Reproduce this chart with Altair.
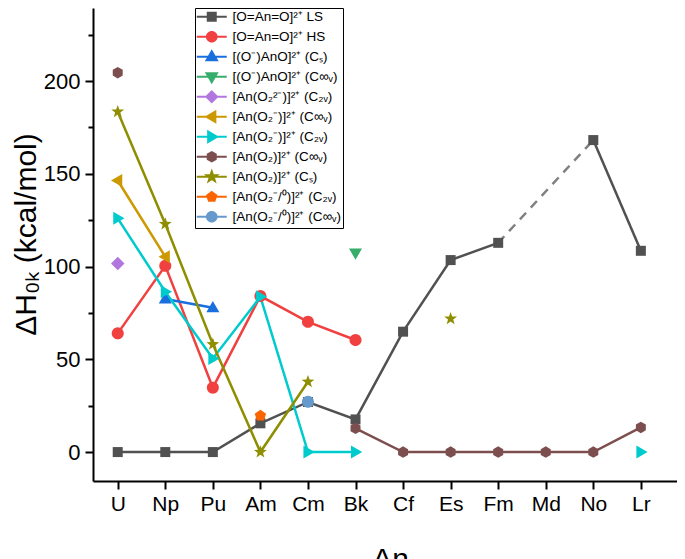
import json
import math
import altair as alt
import pandas as pd

# ---------------- data ----------------
elements = ["U", "Np", "Pu", "Am", "Cm", "Bk", "Cf", "Es", "Fm", "Md", "No", "Lr"]

series_names = [
    "[O=An=O]²⁺ LS",
    "[O=An=O]²⁺ HS",
    "[(O⁻)AnO]²⁺ (Cₛ)",
    "[(O⁻)AnO]²⁺ (C∞ᵥ)",
    "[An(O₂²⁻)]²⁺ (C₂ᵥ)",
    "[An(O₂⁻)]²⁺ (C∞ᵥ)",
    "[An(O₂⁻)]²⁺ (C₂ᵥ)",
    "[An(O₂)]²⁺ (C∞ᵥ)",
    "[An(O₂)]²⁺ (Cₛ)",
    "[An(O₂⁻/⁰)]²⁺ (C₂ᵥ)",
    "[An(O₂⁻/⁰)]²⁺ (C∞ᵥ)",
]

N = None
ls_vals      = [0, 0, 0, 15.5, 27.0, 17.6, 64.9, 103.5, 112.8, N, 168.2, 108.5]
hs_vals      = [64.0, 100.4, 34.7, 84.1, 70.2, 60.4, N, N, N, N, N, N]
cs_vals      = [N, 82.5, 77.8, N, N, N, N, N, N, N, N, N]
cinf_vals    = [N, N, N, N, N, 107.3, N, N, N, N, N, N]
perox_vals   = [101.7, N, N, N, N, N, N, N, N, N, N, N]
superinf_vals = [146.4, 105.3, N, N, N, N, N, N, N, N, N, N]
super2v_vals = [126.0, 86.4, 50.5, 83.7, 0, 0, N, N, N, N, N, 0]
o2inf_vals   = [204.5, N, N, N, N, 12.8, 0, 0, 0, 0, 0, 13.3]
o2s_vals     = [183.5, 122.9, 58.1, 0, 37.9, N, N, 71.9, N, N, N, N]
mix2v_vals   = [N, N, N, 19.6, N, N, N, N, N, N, N, N]
mixinf_vals  = [N, N, N, N, 27.1, N, N, N, N, N, N, N]

all_vals = [ls_vals, hs_vals, cs_vals, cinf_vals, perox_vals, superinf_vals,
            super2v_vals, o2inf_vals, o2s_vals, mix2v_vals, mixinf_vals]

# dashed connector of the LS curve (Fm -> No)
dash_elements = ["Fm", "No"]
dash_vals = [112.8, 168.2]

colors = ["#515151", "#F14040", "#1A6FDF", "#37AD6B", "#B177DE", "#CC9900",
          "#00CBCC", "#7D4E4E", "#8E8E00", "#FB6501", "#6699CC"]

y_major = [0, 50, 100, 150, 200]
y_minor = [25, 75, 125, 175, 225]

# ---------------- marker geometry ----------------
def poly(pts, s=1.0):
    return "M" + "L".join(f"{x*s:.3f},{y*s:.3f}" for x, y in pts) + "Z"

def reg(n, r, start=-90):
    return [(r*math.cos(math.radians(start + 360*k/n)), r*math.sin(math.radians(start + 360*k/n))) for k in range(n)]

def star(r, ri):
    pts = []
    for k in range(10):
        rr = r if k % 2 == 0 else ri
        a = math.radians(-90 + 36*k)
        pts.append((rr*math.cos(a), rr*math.sin(a)))
    return pts

def marker_paths(s):
    return [
        poly([(-1, -1), (1, -1), (1, 1), (-1, 1)], s),          # square
        poly(reg(32, 1.2), s),                                  # circle
        poly([(0, -1.35), (1.3, 0.9), (-1.3, 0.9)], s),         # triangle up
        poly([(0, 1.35), (1.3, -0.9), (-1.3, -0.9)], s),        # triangle down
        poly([(0, -1.35), (1.35, 0), (0, 1.35), (-1.35, 0)], s),# diamond
        poly([(-1.35, 0), (0.9, -1.3), (0.9, 1.3)], s),         # triangle left
        poly([(1.35, 0), (-0.9, -1.3), (-0.9, 1.3)], s),        # triangle right
        poly(reg(6, 1.15), s),                                  # hexagon
        poly(star(1.35, 0.55), s),                              # star
        poly(reg(5, 1.2), s),                                   # pentagon
        poly(reg(32, 1.2), s),                                  # sphere
    ]

plot_shapes = marker_paths(1.0)
legend_shapes = ["M-3,0H3" + p for p in marker_paths(0.8)]
marker_keys = [f"m{i}" for i in range(len(series_names))]

# ---------------- tables ----------------
rows = []
for k, (name, vals) in enumerate(zip(series_names, all_vals)):
    seg = 0
    prev = None
    for i, v in enumerate(vals):
        if v is None:
            prev = None
            continue
        if prev is None:
            seg += 1
        rows.append({"series": name, "mk": marker_keys[k], "idx": i, "value": v,
                     "seg": f"{name}-{seg}"})
        prev = v
df = pd.DataFrame(rows)

dash_df = pd.DataFrame({"idx": [elements.index(e) for e in dash_elements],
                        "value": dash_vals})

FONT = "Liberation Sans"
x_domain = [-0.52, 11.76]
y_domain = [-15.6, 239.4]

label_expr = json.dumps(elements) + "[datum.value]"

x_enc = alt.X("idx:Q",
              scale=alt.Scale(domain=x_domain, nice=False, zero=False),
              axis=alt.Axis(values=list(range(len(elements))), labelExpr=label_expr,
                            title="An", titleFontSize=30, titleFont=FONT,
                            titleFontWeight="normal", titleColor="black",
                            titleX=297, titleY=87, titleBaseline="alphabetic",
                            titleAlign="center",
                            labelFont=FONT, labelFontSize=21, labelColor="black",
                            labelPadding=4, tickSize=8, tickWidth=2, tickColor="black",
                            domainColor="black", domainWidth=2, grid=False,
                            labelFlush=False, labelOverlap=False))

y_scale = alt.Scale(domain=y_domain, nice=False, zero=False)

color_scale = alt.Scale(domain=series_names, range=colors)
shape_scale = alt.Scale(domain=marker_keys, range=plot_shapes)

names_js = json.dumps(series_names, ensure_ascii=False)
idx_js = "indexof(" + names_js + ", datum.value)"
legend = alt.Legend(
    title=None, orient="none", legendX=102, legendY=0, direction="vertical",
    columns=1, labelFont=FONT, labelFontSize=13.5, labelColor="black",
    labelLimit=300, symbolSize=100, symbolStrokeWidth=2, symbolOffset=8,
    labelOffset=14, rowPadding=0, padding=2, gridAlign="all",
    strokeColor="black", fillColor="white", symbolOpacity=1,
    symbolType=alt.ExprRef(expr=json.dumps(legend_shapes) + "[" + idx_js + "]"),
    symbolStrokeColor=alt.ExprRef(expr=json.dumps(colors) + "[" + idx_js + "]"),
    symbolFillColor=alt.ExprRef(expr=json.dumps(colors) + "[" + idx_js + "]"),
)

lines = alt.Chart(df).mark_line(strokeWidth=2.5).encode(
    x=x_enc,
    y=alt.Y("value:Q", scale=y_scale,
            axis=alt.Axis(values=y_major, title="ΔH₀ₖ (kcal/mol)", titleFont=FONT,
                          titleFontSize=30, titleFontWeight="normal", titleColor="black",
                          titleX=-58, titleY=226, titleAngle=270,
                          titleBaseline="alphabetic", titleAlign="center",
                          labelFont=FONT, labelFontSize=22, labelColor="black",
                          labelPadding=5, tickSize=8, tickWidth=2, tickColor="black",
                          domainColor="black", domainWidth=2, grid=False,
                          labelFlush=False, labelOverlap=False, orient="left")),
    color=alt.Color("series:N", scale=color_scale, legend=legend),
    detail="seg:N",
)

dashed = alt.Chart(dash_df).mark_line(strokeWidth=2.5, strokeDash=[9, 7], color="#808080").encode(
    x=x_enc,
    y=alt.Y("value:Q", scale=y_scale, axis=None),
)

points = alt.Chart(df).mark_point(filled=True, size=100, opacity=1).encode(
    x=x_enc,
    y=alt.Y("value:Q", scale=y_scale,
            axis=alt.Axis(values=y_minor, labels=False, title=None, domain=False,
                          tickSize=5, tickWidth=2, tickColor="black", grid=False,
                          orient="left")),
    color=alt.Color("series:N", scale=color_scale, legend=legend),
    shape=alt.Shape("mk:N", scale=shape_scale, legend=None),
)

chart = alt.layer(lines, dashed, points).resolve_axis(y="independent").properties(
    width=584, height=473,
    autosize=alt.AutoSizeParams(type="none"),
    padding={"left": 85, "top": 0, "right": 0, "bottom": 78},
    background="white",
).configure_view(stroke=None)

chart.save("out.html", embed_options={"renderer": "svg", "actions": False})
